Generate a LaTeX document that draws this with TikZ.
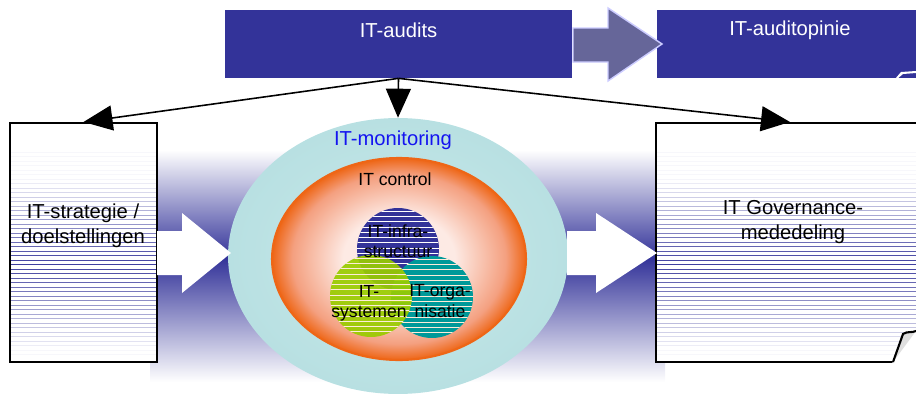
\documentclass[tikz,border=0pt]{standalone}
\usepackage{fontspec}
\setmainfont{Liberation Sans}
\usetikzlibrary{arrows.meta,shapes.geometric}

\definecolor{auditblue}{RGB}{51,51,153}
\definecolor{arrowgrey}{RGB}{102,102,153}
\definecolor{lavender}{RGB}{204,204,255}
\definecolor{moncyan}{RGB}{184,224,226}
\definecolor{monpale}{RGB}{200,232,233}
\definecolor{ctrlorange}{RGB}{238,102,22}
\definecolor{ctrlmid}{RGB}{244,160,128}
\definecolor{ctrlpale}{RGB}{253,234,228}
\definecolor{sysgreen}{RGB}{153,204,0}
\definecolor{orgteal}{RGB}{0,153,153}
\definecolor{monblue}{RGB}{20,20,240}

\pgfdeclareradialshading{ctrlshade}{\pgfpoint{0bp}{0bp}}{color(0bp)=(ctrlpale); color(11bp)=(ctrlpale); color(21bp)=(ctrlmid); color(25bp)=(ctrlorange); color(50bp)=(ctrlorange)}

\begin{document}
\begin{tikzpicture}[
      x=0.02cm, y=-0.02cm,
      font=\fontsize{11.5}{14}\selectfont,
      link/.style={line width=0.9pt, -{Triangle[length=5.8mm,width=5mm]}},
      topbox/.style={fill=auditblue, minimum height=1.36cm, inner sep=0pt},
      toplabel/.style={text=white},
      docbox/.style={draw=black, line width=1.2pt, fill=white, minimum height=4.78cm, inner sep=0pt},
      doclabel/.style={align=center},
      small/.style={font=\fontsize{10}{11.5}\selectfont, align=center},
      area/.style={circle, minimum size=1.64cm, inner sep=0pt},
      stripes/.style={path picture={
          \foreach \k in {1,...,15}{
            \draw[#1, line width=0.55pt]
            ([yshift=\k*0.105cm]path picture bounding box.south west) --
            ([yshift=\k*0.105cm]path picture bounding box.south east);
          }}}
    ]

    \useasboundingbox (0,0) rectangle (916,396);
    \clip (0,0) rectangle (916,396);

    % blue band behind the middle
    \shade[top color=white, bottom color=auditblue] (150,150) rectangle (665,258);
    \shade[top color=auditblue, bottom color=white] (150,258) rectangle (665,382);

    % documents left and right
    \node[docbox, minimum width=2.94cm] (strat) at (83.5,242.5) {};
    \node[docbox, minimum width=5.36cm] (gov) at (790,242.5) {};

    \foreach \y in {152,156.5,...,358}{
      \pgfmathtruncatemacro\p{max(4,95-abs(\y-264)*1.05)}
      \draw[auditblue!\p!white, line width=0.5pt] (11,\y) -- (156,\y);
      \draw[auditblue!\p!white, line width=0.5pt] (657,\y) -- (916,\y);
    }

    % folded corner
    \fill[white] (892,364) -- (918,364) -- (918,329) -- (903,334) -- cycle;
    \filldraw[fill=gray!25, draw=black, line width=1.2pt]
    (893,362) -- (903,334) .. controls (907,331) and (912,333) .. (916,331);

    \node[doclabel] (stratlabel) at (83,226) {IT-strategie /\\doelstellingen};
    \node[doclabel] (govlabel) at (793,222) {IT Governance-\\mededeling};

    % monitoring and control
    \node[ellipse, minimum width=6.8cm, minimum height=5.52cm,
      inner color=monpale, outer color=moncyan] (monitor) at (398,256) {};
    \node[text=monblue] (monlabel) at (393,140) {IT-monitoring};

    \node[ellipse, draw=ctrlorange, line width=1.2pt, shading=ctrlshade,
      minimum width=5.08cm, minimum height=4.04cm] (control) at (399,259) {};
    \node[small] (ctrllabel) at (395,179) {IT control};

    % white arrows
    \fill[white] (157,231) -- (182,231) -- (182,213) -- (231,253)
    -- (182,293) -- (182,275) -- (157,275) -- cycle;
    \fill[white] (567,231) -- (596,231) -- (596,213) -- (657,253)
    -- (596,293) -- (596,275) -- (567,275) -- cycle;

    % three areas
    \node[area, fill=auditblue, stripes=white] (infra) at (398,249) {};
    \node[area, fill=orgteal, stripes=white!85!orange] (org) at (432,297) {};
    \node[area, fill=sysgreen, fill opacity=0.92, stripes=white!85!orange] (sys) at (371,296) {};

    \node[small] (infralabel) at (398,241) {IT-infra-\\structuur};
    \node[small] (syslabel) at (369,303) {IT-\\systemen};
    \node[small] (orglabel) at (440,301) {IT-orga-\\nisatie};

    % audit boxes
    \node[topbox, minimum width=6.94cm] (audits) at (398.5,44) {};
    \node[topbox, minimum width=5.32cm] (opinie) at (790,44) {};
    \node[toplabel] (auditslabel) at (398.5,30) {IT-audits};
    \node[toplabel] (opinielabel) at (790,30) {IT-auditopinie};
    \fill[white] (895,79) -- (901,72) -- (916,71) -- (916,73)
    -- (903,74) -- (897,79) -- cycle;

    \filldraw[fill=arrowgrey, draw=lavender, line width=0.8pt]
    (573,28) -- (608,28) -- (608,8) -- (662,44) -- (608,81) -- (608,62) -- (573,62) -- cycle;

    % connectors
    \draw[link] (audits.south) -- (strat.north);
    \draw[link] (audits.south) -- (monitor.north);
    \draw[link] (audits.south) -- (gov.north);

  \end{tikzpicture}
\end{document}
